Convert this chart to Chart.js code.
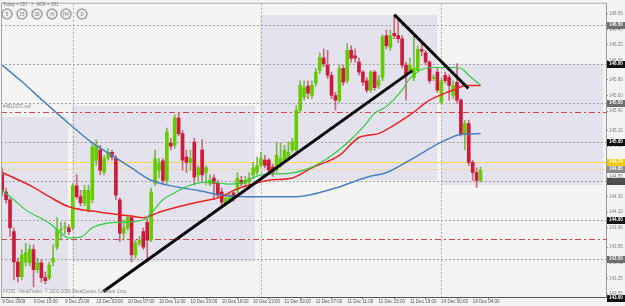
<!DOCTYPE html>
<html>
<head>
<meta charset="utf-8">
<title>GBPJPY M30</title>
<script src="https://cdn.jsdelivr.net/npm/chart.js"></script>
<style>
  html, body { margin: 0; padding: 0; background: #f4f4f2; }
</style>
</head>
<body>
<canvas id="chart" width="625" height="306"></canvas>
<script>
// bar index 0 = 9 Dec 15:00, one bar every 30 minutes
const opens = [
  144.58, 144.36, 144.26, 143.85, 143.46, 143.27, 143.46, 143.45, 143.62, 143.36,
  143.45, 143.26, 143.26, 143.46, 143.65, 143.87, 143.90, 143.90, 143.90, 144.44,
  144.30, 144.22, 144.13, 144.26, 144.77, 144.90, 144.61, 144.79, 144.87, 144.79,
  144.26, 143.83, 143.90, 144.03, 143.55, 143.70, 143.85, 143.97, 143.74, 144.47,
  144.64, 144.76, 144.51, 144.99, 144.96, 145.31, 145.11, 144.81, 144.74, 145.00,
  144.58, 144.90, 144.61, 144.47, 144.54, 144.47, 144.36, 144.22, 144.26, 144.35,
  144.38, 144.51, 144.47, 144.49, 144.58, 144.61, 144.70, 144.77, 144.77, 144.68,
  144.64, 144.70, 144.77, 144.79, 144.90, 144.90, 145.41, 145.58, 145.72, 145.60,
  145.76, 145.92, 146.08, 145.99, 145.86, 145.60, 145.54, 145.95, 145.79, 146.18,
  146.11, 146.03, 145.90, 145.79, 145.67, 145.90, 145.73, 145.83, 146.37, 146.22,
  146.40, 146.37, 146.33, 145.99, 145.92, 145.83, 145.92, 146.19, 146.15, 146.03,
  145.82, 145.90, 145.51, 145.86, 145.83, 145.60, 145.77, 145.54, 145.11, 145.24,
  144.74, 144.61, 144.51
];
const highs = [
  144.67, 144.41, 144.28, 143.90, 143.51, 143.62, 143.70, 143.68, 143.68, 143.51,
  143.49, 143.33, 143.46, 143.68, 144.03, 143.97, 143.97, 143.94, 144.47, 144.58,
  144.38, 144.45, 144.45, 144.99, 145.03, 144.96, 144.83, 144.92, 144.90, 144.83,
  144.28, 144.00, 144.06, 144.06, 143.74, 143.79, 143.90, 144.03, 144.41, 144.90,
  144.79, 144.79, 145.18, 145.05, 145.35, 145.38, 145.15, 144.90, 144.90, 145.05,
  144.70, 145.03, 144.70, 144.58, 144.58, 144.51, 144.41, 144.32, 144.35, 144.38,
  144.61, 144.56, 144.56, 144.61, 144.74, 144.81, 144.87, 144.83, 144.79, 144.72,
  145.00, 144.99, 144.96, 145.00, 145.05, 145.47, 145.79, 145.79, 145.79, 145.79,
  145.95, 146.15, 146.20, 146.18, 145.90, 145.64, 145.99, 145.99, 146.27, 146.24,
  146.20, 146.08, 145.92, 145.83, 145.92, 145.92, 145.86, 146.38, 146.44, 146.44,
  146.63, 146.56, 146.37, 146.03, 146.08, 146.40, 146.24, 146.27, 146.18, 146.05,
  145.87, 145.95, 145.82, 145.90, 145.87, 145.79, 146.01, 145.56, 145.28, 145.28,
  144.77, 144.67, 144.68
];
const lows = [
  144.32, 144.22, 143.79, 143.23, 143.20, 143.23, 143.41, 143.41, 143.14, 143.32,
  143.20, 143.18, 143.23, 143.41, 143.62, 143.74, 143.82, 143.81, 143.87, 144.27,
  144.18, 144.18, 144.10, 144.22, 144.70, 144.58, 144.58, 144.77, 144.77, 144.26,
  143.72, 143.74, 143.87, 143.46, 143.51, 143.67, 143.62, 143.46, 143.72, 144.44,
  144.54, 144.45, 144.47, 144.90, 144.92, 145.08, 144.64, 144.61, 144.64, 144.45,
  144.51, 144.51, 144.45, 144.44, 144.26, 144.28, 144.17, 144.18, 144.22, 144.24,
  144.35, 144.44, 144.44, 144.46, 144.54, 144.58, 144.68, 144.67, 144.60, 144.56,
  144.61, 144.68, 144.74, 144.77, 144.87, 144.87, 145.38, 145.54, 145.56, 145.56,
  145.72, 145.88, 145.97, 145.82, 145.56, 145.41, 145.51, 145.73, 145.76, 146.03,
  146.03, 145.86, 145.73, 145.64, 145.64, 145.67, 145.69, 145.79, 146.20, 146.18,
  146.33, 146.28, 145.95, 145.54, 145.90, 145.79, 145.90, 146.11, 145.99, 145.76,
  145.79, 145.64, 145.49, 145.76, 145.54, 145.56, 145.50, 145.08, 144.90, 144.70,
  144.51, 144.42, 144.49
];
const closes = [
  144.36, 144.26, 143.90, 143.46, 143.27, 143.55, 143.58, 143.62, 143.36, 143.45,
  143.26, 143.22, 143.42, 143.51, 143.87, 143.88, 143.91, 143.85, 144.44, 144.30,
  144.22, 144.38, 144.38, 144.94, 144.96, 144.64, 144.79, 144.87, 144.81, 144.32,
  143.83, 143.90, 144.03, 143.55, 143.70, 143.74, 143.65, 143.74, 144.36, 144.79,
  144.73, 144.51, 145.13, 144.95, 145.31, 145.11, 144.77, 144.74, 144.79, 144.55,
  144.67, 144.58, 144.67, 144.51, 144.47, 144.32, 144.23, 144.28, 144.30, 144.28,
  144.54, 144.47, 144.51, 144.54, 144.67, 144.70, 144.79, 144.70, 144.64, 144.61,
  144.83, 144.79, 144.90, 144.87, 145.00, 145.41, 145.73, 145.70, 145.63, 145.73,
  145.90, 146.09, 146.01, 145.86, 145.60, 145.54, 145.95, 145.77, 146.18, 146.08,
  146.08, 145.90, 145.77, 145.67, 145.90, 145.70, 145.79, 146.35, 146.24, 146.37,
  146.37, 146.33, 145.99, 145.86, 145.99, 145.95, 146.19, 146.17, 146.03, 145.79,
  145.83, 145.67, 145.79, 145.79, 145.73, 145.73, 145.54, 145.11, 145.24, 144.74,
  144.61, 144.51, 144.64
];

// moving averages at these bar indices
const slowMaIdx = [0, 5, 10, 17, 23, 28, 33, 38, 45, 50, 56, 62, 75, 85, 93, 98, 104, 112, 117, 122];
const slowMaVal = [145.99, 145.78, 145.55, 145.24, 144.99, 144.83, 144.67, 144.51, 144.42, 144.38,
                   144.32, 144.30, 144.30, 144.41, 144.55, 144.61, 144.77, 145.00, 145.10, 145.11];
const midMaIdx = [0, 8, 12, 17, 25, 33, 36, 40, 45, 50, 56, 59, 63, 68, 74, 79, 86, 91, 96, 99, 104, 109, 113, 116, 118, 122];
const midMaVal = [144.61, 144.42, 144.30, 144.17, 144.10, 144.05, 144.03, 144.10, 144.17, 144.23,
                  144.30, 144.38, 144.45, 144.51, 144.54, 144.67, 144.83, 145.06, 145.11, 145.19,
                  145.35, 145.54, 145.63, 145.69, 145.73, 145.73];
const fastMaIdx = [0, 3, 6, 12, 15, 17, 20, 23, 27, 30, 36, 38, 41, 44, 48, 53, 58, 62, 66, 73,
                   79, 84, 88, 92, 95, 98, 102, 104, 109, 114, 117, 119, 122];
const fastMaVal = [144.38, 144.26, 144.13, 143.96, 143.83, 143.77, 143.78, 143.90, 143.96, 143.97,
                   144.00, 144.09, 144.26, 144.35, 144.45, 144.49, 144.46, 144.49, 144.58, 144.60,
                   144.68, 144.83, 144.99, 145.19, 145.37, 145.46, 145.67, 145.82, 145.96, 145.96,
                   145.95, 145.86, 145.73];

// hand drawn trend lines (bar index, price)
const trendUpIdx = [25.8, 104.6];
const trendUpPrice = [143.08, 145.92];
const trendDownIdx = [100, 118.9];
const trendDownPrice = [146.64, 145.69];

// shaded boxes: start bar, end bar, top price, bottom price
const zoneStart = [-0.3, 17.9, 65.8, 112];
const zoneEnd = [16.8, 64.5, 111, 153.3];
const zoneTop = [145.32, 145.47, 146.63, 146.01];
const zoneBottom = [143.10, 143.46, 144.51, 144.45];

const daySeparators = [18, 66, 112];
const gridLevels = [146.50, 146.00, 145.50, 145.00, 144.50, 144.00, 143.50];
const orderLevels = [145.39, 143.76];
const bidLevels = [144.74, 144.65];
const boxLevels = [146.50, 146.00, 145.50, 145.00, 144.74, 144.65, 144.50, 144.00, 143.50, 143.00];

const xTickIdx = [0, 8, 16, 24, 32, 40, 48, 56, 64, 72, 80, 88, 96, 104, 112, 120];
const xTickLabels = ['9 Dec 2009', '9 Dec 19:00', '9 Dec 23:00', '10 Dec 03:00', '10 Dec 07:00',
  '10 Dec 11:00', '10 Dec 15:00', '10 Dec 19:00', '10 Dec 23:00', '11 Dec 03:00', '11 Dec 07:00',
  '11 Dec 11:00', '11 Dec 15:00', '11 Dec 19:00', '14 Dec 00:00', '14 Dec 04:00'];
const yTicks = [146.65, 146.45, 146.25, 146.05, 145.80, 145.60, 145.40, 145.15, 144.95, 144.75,
                144.55, 144.30, 144.10, 143.90, 143.65, 143.45, 143.25, 143.05];

const tinyFont = '4.5px "Liberation Sans", Arial, sans-serif';
const bull = '#66cc00', bear = '#cc1a3a';
const boxFill = ['#6e6e6e', '#111111', '#6e6e6e', '#111111', '#f2cc00', '#8a8a8a', '#4a4a4a', '#111111', '#6e6e6e', '#111111'];

function pts(xs, ys) {
  return xs.map((v, i) => ({ x: v, y: ys[i] }));
}

const bodies = opens.map((o, i) => ({ x: i, y: [o, closes[i]] }));
const wicks = lows.map((l, i) => ({ x: i, y: [l, highs[i]] }));
const isBull = opens.map((o, i) => closes[i] >= o);

function stipple(ctx) {
  const c = document.createElement('canvas');
  c.width = 2; c.height = 2;
  const p = c.getContext('2d');
  p.fillStyle = '#efecf1'; p.fillRect(0, 0, 2, 2);
  p.fillStyle = '#d3daee'; p.fillRect(0, 0, 1, 1);
  p.fillStyle = '#e0d8e6'; p.fillRect(1, 1, 1, 1);
  return ctx.createPattern(c, 'repeat');
}

function hline(ctx, a, yy, color, dash, w) {
  ctx.beginPath();
  ctx.strokeStyle = color;
  ctx.lineWidth = w || 1;
  ctx.setLineDash(dash);
  ctx.moveTo(a.left, Math.round(yy) + 0.5);
  ctx.lineTo(a.right, Math.round(yy) + 0.5);
  ctx.stroke();
}

const mtPlugin = {
  id: 'mt',
  beforeDraw(chart) {
    const { ctx, chartArea: a, scales: { x, y } } = chart;
    ctx.save();
    ctx.fillStyle = '#f4f4f2';
    ctx.fillRect(0, 0, chart.width, chart.height);
    ctx.fillStyle = stipple(ctx);
    zoneStart.forEach((s, i) => {
      const x0 = x.getPixelForValue(s), x1 = x.getPixelForValue(zoneEnd[i]);
      const y0 = y.getPixelForValue(zoneTop[i]), y1 = y.getPixelForValue(zoneBottom[i]);
      ctx.fillRect(Math.round(x0), Math.round(y0), Math.round(x1 - x0), Math.round(y1 - y0));
    });
    // day separators
    daySeparators.forEach(d => {
      const px = Math.round(x.getPixelForValue(d)) + 0.5;
      ctx.beginPath();
      ctx.strokeStyle = '#b8a4b2';
      ctx.lineWidth = 1;
      ctx.setLineDash([2, 2]);
      ctx.moveTo(px, a.top);
      ctx.lineTo(px, a.bottom);
      ctx.stroke();
    });
    gridLevels.forEach(p => hline(ctx, a, y.getPixelForValue(p), '#a59ea8', [2, 2]));
    orderLevels.forEach(p => hline(ctx, a, y.getPixelForValue(p), '#d9404f', [6, 3, 2, 3]));
    hline(ctx, a, y.getPixelForValue(bidLevels[0]), '#ffd84a', []);
    hline(ctx, a, y.getPixelForValue(bidLevels[1]), '#f1dc9a', []);
    ctx.restore();
  },
  afterDraw(chart) {
    const { ctx, chartArea: a, scales: { y } } = chart;
    ctx.save();
    ctx.setLineDash([]);
    // frame
    ctx.strokeStyle = '#a8a8a8';
    ctx.lineWidth = 1;
    ctx.beginPath();
    ctx.moveTo(a.left + 0.5, a.bottom);
    ctx.lineTo(a.left + 0.5, a.top - 0.5);
    ctx.lineTo(a.right, a.top - 0.5);
    ctx.stroke();
    ctx.strokeStyle = '#555';
    ctx.beginPath();
    ctx.moveTo(a.left, a.bottom + 0.5);
    ctx.lineTo(a.right, a.bottom + 0.5);
    ctx.stroke();

    // price boxes on the axis
    ctx.font = 'bold ' + tinyFont;
    ctx.textBaseline = 'middle';
    ctx.textAlign = 'left';
    boxLevels.forEach((p, i) => {
      const py = Math.round(y.getPixelForValue(p));
      ctx.fillStyle = boxFill[i];
      ctx.fillRect(a.right + 1, Math.min(py - 3, chart.height - 7), 18, 7);
      ctx.fillStyle = i === 6 ? '#5e5e5e' : '#ffffff';
      ctx.fillText(p.toFixed(2), a.right + 3, Math.min(py, chart.height - 3.5));
    });

    // header text and period buttons
    ctx.font = tinyFont;
    ctx.fillStyle = '#7a7a7a';
    ctx.textBaseline = 'middle';
    ctx.fillText('Today = 207   |   ADR = 261', 3, 5);
    const btn = ['5', '15', '30', 'H', 'H4', 'D'];
    const bx = [7, 22, 37, 52, 66, 82];
    btn.forEach((t, i) => {
      ctx.beginPath();
      ctx.arc(bx[i], 14, 5, 0, Math.PI * 2);
      ctx.fillStyle = '#eeeeee';
      ctx.fill();
      ctx.strokeStyle = '#a0a0a0';
      ctx.lineWidth = 1.5;
      ctx.stroke();
      ctx.fillStyle = '#7a7a7a';
      ctx.textAlign = 'center';
      ctx.fillText(t, bx[i], 14.5);
    });
    ctx.textAlign = 'left';
    ctx.fillStyle = '#8a8a8a';
    ctx.fillText('#4810370 sell', 3, 107);
    ctx.fillText('FXDD - MetaTrader, \u00a9 2001-2009 MetaQuotes Software Corp.', 3, 292);
    ctx.restore();
  }
};

new Chart(document.getElementById('chart'), {
  type: 'bar',
  data: {
    datasets: [
      {
        type: 'line', order: 0, data: pts(trendUpIdx, trendUpPrice),
        borderColor: '#000', borderWidth: 3, pointRadius: 0
      },
      {
        type: 'line', order: 0, data: pts(trendDownIdx, trendDownPrice),
        borderColor: '#000', borderWidth: 3, pointRadius: 0
      },
      {
        type: 'line', order: 1, data: pts(fastMaIdx, fastMaVal),
        borderColor: '#2ecc40', borderWidth: 1.2, pointRadius: 0, cubicInterpolationMode: 'monotone'
      },
      {
        type: 'line', order: 1, data: pts(midMaIdx, midMaVal),
        borderColor: '#ee2222', borderWidth: 1.5, pointRadius: 0, cubicInterpolationMode: 'monotone'
      },
      {
        type: 'line', order: 1, data: pts(slowMaIdx, slowMaVal),
        borderColor: '#4a80c4', borderWidth: 1.5, pointRadius: 0, cubicInterpolationMode: 'monotone'
      },
      {
        order: 2, data: bodies, barThickness: 3, minBarLength: 1, grouped: false,
        backgroundColor: isBull.map(b => b ? bull : bear)
      },
      {
        order: 3, data: wicks, barThickness: 1, grouped: false,
        backgroundColor: isBull.map(b => b ? '#78b84a' : '#c8687c')
      }
    ]
  },
  options: {
    responsive: false,
    animation: false,
    devicePixelRatio: 1,
    layout: { padding: { top: 3, left: 1, right: 0, bottom: 0 } },
    plugins: { legend: { display: false }, tooltip: { enabled: false } },
    scales: {
      x: {
        type: 'linear', min: -0.3, max: 154, offset: false,
        afterBuildTicks: s => { s.ticks = xTickIdx.map(v => ({ value: v })); },
        afterFit: s => { s.height = 9; },
        grid: { drawOnChartArea: false, tickLength: 2, color: '#666' },
        border: { display: false },
        ticks: {
          autoSkip: false, maxRotation: 0, align: 'start', padding: 0,
          color: '#555', font: { family: '"Liberation Sans", Arial, sans-serif', size: 4.5 },
          callback: v => xTickLabels[xTickIdx.indexOf(v)]
        }
      },
      y: {
        position: 'right', min: 143.01, max: 146.78,
        afterBuildTicks: s => { s.ticks = yTicks.map(v => ({ value: v })); },
        afterFit: s => { s.width = 19; },
        grid: { drawOnChartArea: false, tickLength: 2, color: '#999' },
        border: { color: '#9a9a9a' },
        ticks: {
          padding: 1, color: '#7d7d7d',
          font: { family: '"Liberation Sans", Arial, sans-serif', size: 4.5 },
          callback: v => v.toFixed(2)
        }
      }
    }
  },
  plugins: [mtPlugin]
});
</script>
</body>
</html>
